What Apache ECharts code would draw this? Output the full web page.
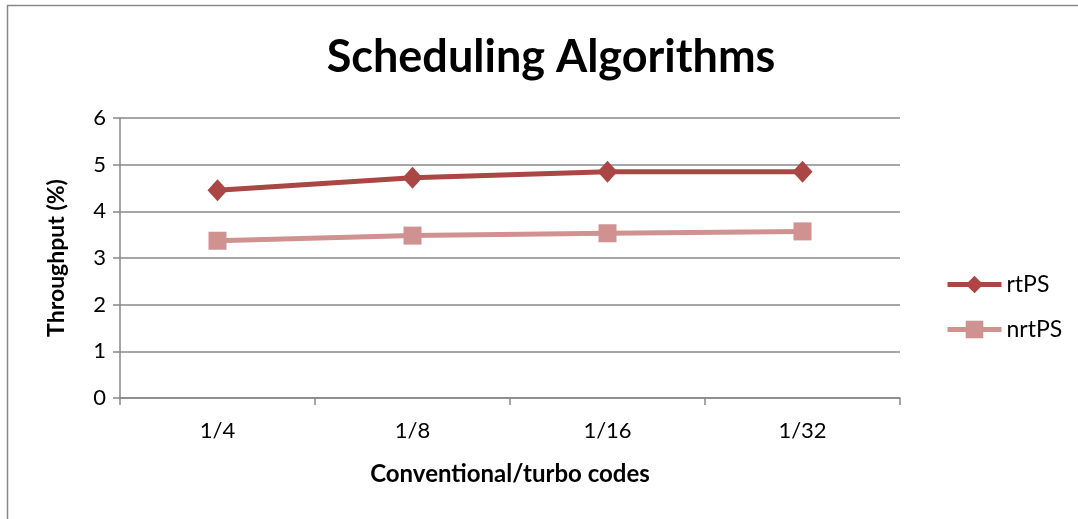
<!DOCTYPE html>
<html>
<head>
<meta charset="utf-8">
<script src="https://cdn.jsdelivr.net/npm/echarts@6/dist/echarts.min.js"></script>
<style>
  html, body { margin: 0; padding: 0; background: #fff; }
  #chart { width: 1078px; height: 519px; }
</style>
</head>
<body>
<div id="chart"></div>
<script>
var categories = ['1/4', '1/8', '1/16', '1/32'];
var rtPS = [4.45, 4.72, 4.85, 4.85];
var nrtPS = [3.37, 3.48, 3.53, 3.57];

var chart = echarts.init(document.getElementById('chart'));
var font = 'Lato, "Open Sans", sans-serif';

chart.setOption({
  animation: false,
  textStyle: { fontFamily: font },
  graphic: [{
    type: 'rect',
    shape: { x: 7.5, y: 5.5, width: 1100, height: 600 },
    style: { fill: 'none', stroke: '#888', lineWidth: 1.5 },
    silent: true
  }],
  title: {
    text: 'Scheduling Algorithms',
    left: 546,
    top: 30,
    textAlign: 'center',
    textStyle: { fontSize: 45, fontWeight: 'bold', color: '#000', fontFamily: font }
  },
  legend: {
    orient: 'vertical',
    left: 940,
    top: 268,
    itemGap: 22,
    itemWidth: 54,
    itemHeight: 22,
    textStyle: { fontSize: 23, color: '#000', fontFamily: font },
    lineStyle: { width: 5 },
    data: ['rtPS', 'nrtPS']
  },
  grid: { left: 120, right: 178, top: 118, bottom: 121 },
  xAxis: {
    type: 'category',
    data: categories,
    boundaryGap: true,
    name: 'Conventional/turbo codes',
    nameLocation: 'middle',
    nameGap: 64,
    nameTextStyle: { fontSize: 24, fontWeight: 'bold', color: '#000', fontFamily: font },
    axisLine: { lineStyle: { color: '#888', width: 1.5 } },
    axisTick: { show: true, alignWithLabel: false, length: 7, lineStyle: { color: '#888', width: 1.5 } },
    axisLabel: { fontSize: 22, color: '#000', margin: 22, fontFamily: font }
  },
  yAxis: {
    type: 'value',
    min: 0,
    max: 6,
    interval: 1,
    name: 'Throughput (%)',
    nameLocation: 'middle',
    nameGap: 52,
    nameRotate: 90,
    nameTextStyle: { fontSize: 23, fontWeight: 'bold', color: '#000', fontFamily: font },
    axisLine: { show: true, lineStyle: { color: '#888', width: 1.5 } },
    axisTick: { show: true, length: 7, lineStyle: { color: '#888', width: 1.5 } },
    axisLabel: { fontSize: 22, color: '#000', margin: 14, fontFamily: font },
    splitLine: { lineStyle: { color: '#888', width: 1.5 } }
  },
  series: [{
    name: 'rtPS',
    type: 'line',
    data: rtPS,
    symbol: 'diamond',
    symbolSize: [20, 22],
    lineStyle: { color: '#AA4643', width: 5 },
    itemStyle: { color: '#AA4643' }
  }, {
    name: 'nrtPS',
    type: 'line',
    data: nrtPS,
    symbol: 'rect',
    symbolSize: 18,
    lineStyle: { color: '#D09291', width: 5 },
    itemStyle: { color: '#D09291' }
  }]
});
</script>
</body>
</html>
